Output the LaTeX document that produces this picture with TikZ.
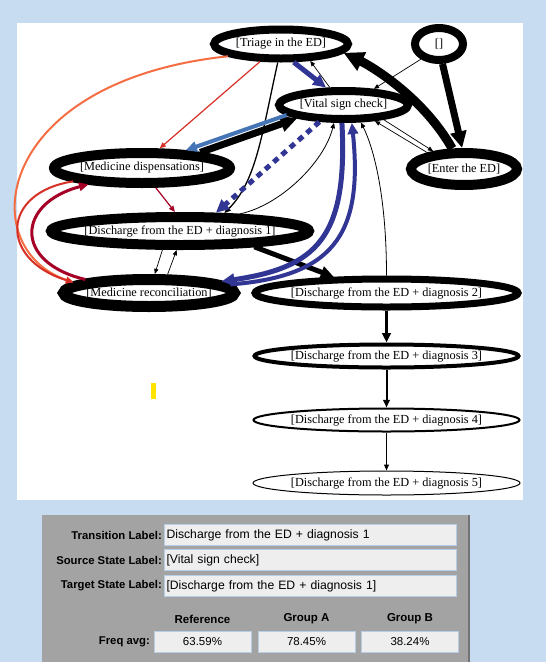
\documentclass[tikz,border=0pt]{standalone}
\usepackage{fontspec}
\usepackage{tikz}
\usetikzlibrary{arrows.meta,shapes.geometric}
\newfontfamily\graphfont{Liberation Serif}
\newfontfamily\panelfont{Liberation Sans}
\tikzset{
  stnode/.style n args={3}{ellipse, draw, inner sep=0pt, line width=#1pt,
    minimum width=#2pt, minimum height=#3pt,
    font=\graphfont\fontsize{12.3}{14}\selectfont},
  trans/.style={-{Triangle[length=4pt 1.8, width=3pt 1.8]}},
  field/.style={draw=fieldline, fill=fieldgray, line width=1pt, anchor=west,
    minimum height=21pt, inner xsep=2pt, text width=288pt, align=left,
    font=\panelfont\fontsize{12.2}{14}\selectfont},
  valbox/.style={draw=fieldline, fill=fieldgray, line width=1pt,
    minimum width=97pt, minimum height=21pt, inner sep=0pt,
    font=\panelfont\fontsize{11.5}{14}\selectfont},
  lbl/.style={anchor=east, inner sep=1pt,
    font=\panelfont\bfseries\fontsize{11.3}{13}\selectfont},
  hdr/.style={inner sep=1pt, font=\panelfont\bfseries\fontsize{11.5}{13}\selectfont}
}
\newcommand{\st}[1]{\makebox[0pt]{[#1]}}
\definecolor{bgblue}{HTML}{C7DCF0}
\definecolor{panelgray}{HTML}{A3A3A3}
\definecolor{fieldgray}{HTML}{EEEEEE}
\definecolor{fieldline}{HTML}{B7CDE4}
\definecolor{rdA}{HTML}{A50026}
\definecolor{rdB}{HTML}{D73027}
\definecolor{rdC}{HTML}{F46D43}
\definecolor{buA}{HTML}{4575B4}
\definecolor{buB}{HTML}{313695}
\definecolor{markyellow}{HTML}{FFE400}

\begin{document}
\begin{tikzpicture}[x=1pt, y=-1pt]

    % canvas
    \useasboundingbox (0,0) rectangle (546,662);
    \fill[bgblue] (0,0) rectangle (546,662);
    \fill[white] (17,23) rectangle (523,500);
    \fill[markyellow] (151,383) rectangle (156,399);

    % states
    \node[stnode={8}{134}{29}] (triage) at (281,44) {\st{Triage in the ED}};
    \node[stnode={8}{48}{32}] (init) at (439,44) {\st{}};
    \node[stnode={8}{129}{28}] (vital) at (343.5,105) {\st{Vital sign check}};
    \node[stnode={10}{106}{32}] (enter) at (464,169) {\st{Enter the ED}};
    \node[stnode={10}{176}{30}] (meddisp) at (142,168) {\st{Medicine dispensations}};
    \node[stnode={10}{258}{28}] (disch1) at (180,231) {\st{Discharge from the ED + diagnosis 1}};
    \node[stnode={11}{171}{27}] (medrec) at (149,293) {\st{Medicine reconciliation}};
    \node[stnode={7}{263}{28}] (disch2) at (386.5,293) {\st{Discharge from the ED + diagnosis 2}};
    \node[stnode={4}{264}{23}] (disch3) at (386.5,356) {\st{Discharge from the ED + diagnosis 3}};
    \node[stnode={2}{266}{23}] (disch4) at (386.5,420) {\st{Discharge from the ED + diagnosis 4}};
    \node[stnode={1}{267}{24}] (disch5) at (386.5,483) {\st{Discharge from the ED + diagnosis 5}};

    % red and orange transitions
    \draw[trans, rdB, line width=1.2pt] (triage.220) -- (meddisp.48);
    \draw[trans, rdC, line width=2pt] (triage.193) .. controls +(-235,25) and +(-100,-34) .. (medrec.172);
    \draw[trans, rdB, line width=2pt] (meddisp.191) .. controls +(-72,11) and +(-75,-23) .. (medrec.172);
    \draw[trans, rdA, line width=3pt] (medrec.168) .. controls +(-72,-17) and +(-72,19) .. (meddisp.197);
    \draw[trans, rdA, line width=1.2pt] (meddisp.-55) -- (disch1.105);

    % black transitions
    \draw[trans, line width=9pt] (enter.120) .. controls +(-30,-53) and +(25,12) .. (triage.-8);
    \draw[trans, line width=7pt] (init.-80) -- (enter.95);
    \draw[trans, line width=0.7pt] (init.220) -- (vital.28);
    \draw[trans, line width=0.7pt] (vital.128) -- (triage.-30);
    \draw[trans, line width=0.7pt] (vital.-20) -- (enter.150);
    \draw[trans, line width=0.7pt] (enter.156) -- (vital.-27);
    \draw[trans, line width=7pt] (meddisp.15) -- (vital.-164);
    \draw[trans, line width=0.8pt] (disch1.16) .. controls +(40,-8) and +(-10,40) .. (vital.-118);
    \draw[trans, line width=1.3pt] (triage.-100) .. controls +(-16,72) and +(32,-32) .. (disch1.22);
    \draw[trans, line width=0.7pt] (disch1.-133) -- (medrec.73);
    \draw[trans, line width=0.7pt] (medrec.45) -- (disch1.-100);
    \draw[trans, line width=5pt] (disch1.-12) -- (disch2.163);
    \draw[trans, line width=0.8pt] (disch2.90) .. controls +(0,-79) and +(13,26) .. (vital.-45);

    % blue transitions
    \draw[trans, buB, line width=5pt] (triage.-55) -- (vital.135);
    \draw[trans, buA, line width=4pt] (vital.190) -- (meddisp.22);
    \draw[trans, buB, line width=5pt, dash pattern=on 6pt off 5pt] (vital.-145) -- (disch1.27);
    \draw[trans, buB, line width=5pt] (vital.-95) .. controls +(6,115) and +(95,-14) .. (medrec.9);
    \draw[trans, buB, line width=4pt] (medrec.6) .. controls +(100,-8) and +(12,115) .. (vital.-65);

    % discharge chain
    \draw[trans, line width=3pt] (disch2) -- (disch3);
    \draw[trans, line width=2pt] (disch3) -- (disch4);
    \draw[trans, line width=1pt] (disch4) -- (disch5);

    % info panel
    \fill[panelgray] (42,515) rectangle (470,662);
    \fill[black!55] (467.5,515) rectangle (470,662);
    \node[lbl] (translbl) at (163,535) {Transition Label:};
    \node[field] (transfld) at (164,535) {Discharge from the ED + diagnosis 1};
    \node[lbl] (srclbl) at (163,560) {Source State Label:};
    \node[field] (srcfld) at (164,560) {[Vital sign check]};
    \node[lbl] (tgtlbl) at (163,586) {Target State Label:};
    \node[field] (tgtfld) at (164,586) {[Discharge from the ED + diagnosis 1]};
    \node[hdr] (hdrref) at (202.5,619) {Reference};
    \node[hdr] (hdra) at (306.5,619) {Group A};
    \node[hdr] (hdrb) at (410,619) {Group B};
    \node[lbl] (freqlbl) at (151,641.5) {Freq avg:};
    \node[valbox] (valref) at (202.5,641.5) {63.59\%};
    \node[valbox] (vala) at (306.5,641.5) {78.45\%};
    \node[valbox] (valb) at (410,641.5) {38.24\%};

\end{tikzpicture}
\end{document}
